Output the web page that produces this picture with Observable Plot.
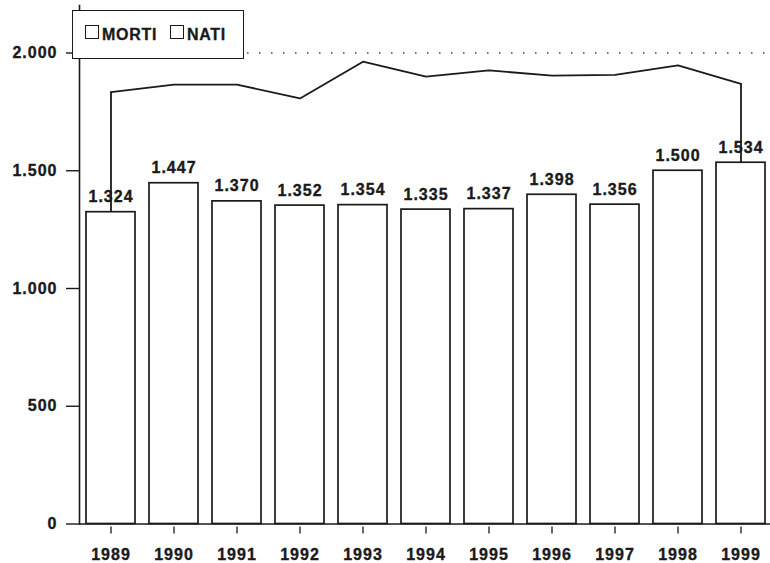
<!DOCTYPE html>
<html>
<head>
<meta charset="utf-8">
<script src="https://cdn.jsdelivr.net/npm/d3@7"></script>
<script src="https://cdn.jsdelivr.net/npm/@observablehq/plot@0.6"></script>
<style>
  body { margin: 0; background: #fff; }
  #wrap { position: relative; width: 770px; height: 563px; overflow: hidden; background: #fff; }
  #chart svg text { letter-spacing: 1px; stroke: #1a1a1a; stroke-width: 0.35px; }
  .legend { position: absolute; left: 72px; top: 10px; width: 170px; height: 47px;
    border: 1.5px solid #1a1a1a; background: #fff; color: #1a1a1a;
    font: bold 16px "Liberation Sans", Arial, sans-serif; letter-spacing: 0.7px; }
  .sw { position: absolute; top: 14px; width: 12px; height: 12px; border: 1.5px solid #1a1a1a; background: #fff; }
  .lt { position: absolute; top: 15px; line-height: 18px; -webkit-text-stroke: 0.3px #1a1a1a; }
</style>
</head>
<body>
<div id="wrap">
  <div id="chart"></div>
  <div class="legend" id="legend"></div>
</div>
<script>
const years = ["1989", "1990", "1991", "1992", "1993", "1994", "1995", "1996", "1997", "1998", "1999"];
const morti = [1324, 1447, 1370, 1352, 1354, 1335, 1337, 1398, 1356, 1500, 1534];
const nati = [1834, 1866, 1866, 1807, 1963, 1900, 1926, 1904, 1907, 1947, 1869];
const yTicks = [0, 500, 1000, 1500, 2000];
const legendLabels = ["MORTI", "NATI"];

const fmt = d3.formatLocale({decimal: ",", thousands: ".", grouping: [3], currency: ["", "€"]}).format(",d");
const data = years.map((y, i) => ({year: y, morti: morti[i], nati: nati[i]}));
const ends = [data[0], data[data.length - 1]];
const ink = "#1a1a1a";

const chart = Plot.plot({
  width: 770,
  height: 563,
  marginTop: 5,
  marginBottom: 39.5,
  marginLeft: 79,
  marginRight: 0,
  style: {fontFamily: '"Liberation Sans", Arial, sans-serif', fontSize: "16px", fontWeight: "bold", color: ink, background: "white"},
  x: {type: "band", domain: years, range: [79, 773], paddingInner: 0.22, paddingOuter: 0.11, axis: null, label: null},
  y: {domain: [0, 2000], range: [523.5, 52.5], axis: null, label: null},
  marks: [
    Plot.ruleY([2000], {stroke: "#444", strokeDasharray: "1.5 10.5", strokeWidth: 1.4}),
    Plot.barY(data, {x: "year", y: "morti", fill: "white", stroke: ink, strokeWidth: 1.7}),
    Plot.text(data, {x: "year", y: "morti", text: d => fmt(d.morti), lineAnchor: "bottom", dy: -10, fontSize: 16, fontWeight: "bold", fill: ink}),
    Plot.ruleX(ends, {x: "year", y1: "morti", y2: "nati", stroke: ink, strokeWidth: 1.8}),
    Plot.lineY(data, {x: "year", y: "nati", stroke: ink, strokeWidth: 1.8}),
    Plot.axisY({ticks: yTicks, tickFormat: fmt, tickSize: 13, tickPadding: 9, fontSize: 16, fontWeight: "bold", label: null, stroke: ink, strokeWidth: 1.4}),
    Plot.axisX({tickSize: 7, dy: 3, tickPadding: 15, fontSize: 16, fontWeight: "bold", label: null, stroke: ink, strokeWidth: 1.3}),
    Plot.ruleY([0], {stroke: ink, strokeWidth: 1.6}),
    Plot.frame({anchor: "left", stroke: ink, strokeWidth: 1.6})
  ]
});
document.getElementById("chart").appendChild(chart);

const legend = document.getElementById("legend");
const swX = [11.5, 96.5];
const txX = [29, 114];
legendLabels.forEach((lab, i) => {
  const s = document.createElement("span");
  s.className = "sw"; s.style.left = swX[i] + "px";
  legend.appendChild(s);
  const t = document.createElement("span");
  t.className = "lt"; t.style.left = txX[i] + "px"; t.textContent = lab;
  legend.appendChild(t);
});
</script>
</body>
</html>
